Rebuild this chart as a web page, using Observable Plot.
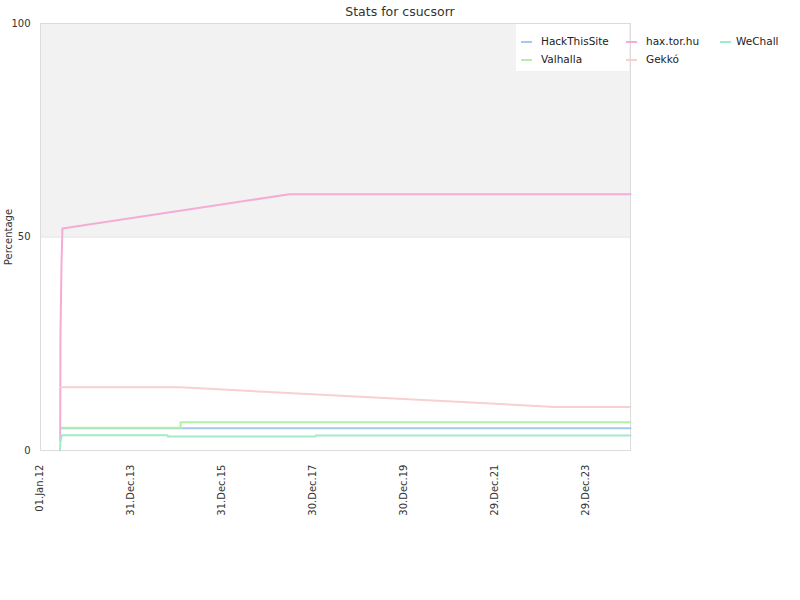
<!DOCTYPE html>
<html><head><meta charset="utf-8">
<script src="https://cdn.jsdelivr.net/npm/d3@7"></script>
<script src="https://cdn.jsdelivr.net/npm/@observablehq/plot@0.6"></script>
<style>
body{margin:0;background:#fff;font-family:"DejaVu Sans",sans-serif;}
#wrap{position:relative;width:800px;height:600px;overflow:hidden;}
#chart{position:absolute;left:0;top:0;}
#title{position:absolute;top:4px;left:0;width:800px;text-align:center;font-size:12.5px;color:#333;}
#ylabel{position:absolute;left:8px;top:237px;font-size:10px;color:#333;transform:translate(-50%,-50%) rotate(-90deg);white-space:nowrap;}
#legendbox{position:absolute;left:516px;top:24px;width:113px;height:47px;background:#fff;}
.item{position:absolute;font-size:10.5px;color:#222;line-height:12px;white-space:nowrap;}
.sw{position:absolute;width:11px;height:2px;}
</style></head><body>
<div id="wrap"><div id="chart"></div><div id="title">Stats for csucsorr</div><div id="ylabel">Percentage</div><div id="legendbox"></div><div id="legend"></div></div>
<script>
// Series
const seriesNames = ["HackThisSite", "Valhalla", "hax.tor.hu", "Gekkó", "WeChall"];
const seriesColors = ["#a3c9f1", "#b2f0a9", "#f4acd6", "#f8d0cf", "#a1ebc9"];

// HackThisSite
const htsDates = ["2012-06-15", "2024-12-24"];
const htsValues = [5.2, 5.2];
// Valhalla
const valDates = ["2012-06-15", "2015-02-05", "2015-02-06", "2024-12-24"];
const valValues = [5.3, 5.3, 6.6, 6.6];
// hax.tor.hu
const haxDates = ["2012-06-15", "2012-06-17", "2012-06-25", "2012-07-03", "2017-06-28", "2024-12-24"];
const haxValues = [2.3, 27, 43, 52, 60, 60];
// Gekkó
const gekDates = ["2012-06-19", "2015-02-05", "2023-04-25", "2024-12-24"];
const gekValues = [14.8, 14.8, 10.2, 10.2];
// WeChall
const wecDates = ["2012-06-13", "2012-06-17", "2012-06-29", "2014-10-24", "2014-10-25", "2018-01-23", "2018-01-24", "2024-12-24"];
const wecValues = [0, 2.1, 3.6, 3.6, 3.3, 3.3, 3.5, 3.5];

// Axes
const xDomain = ["2012-01-09", "2024-12-24"];
const xTickDates = ["2012-01-01", "2013-12-31", "2015-12-31", "2017-12-30", "2019-12-30", "2021-12-29", "2023-12-29"];
const yTicks = [0, 50, 100];
const shadedBand = [50, 100];

const rows = [];
function add(name, dates, values) {
  dates.forEach((d, i) => rows.push({series: name, date: new Date(d), value: values[i]}));
}
add("HackThisSite", htsDates, htsValues);
add("Valhalla", valDates, valValues);
add("hax.tor.hu", haxDates, haxValues);
add("Gekkó", gekDates, gekValues);
add("WeChall", wecDates, wecValues);

const d0 = new Date(xDomain[0]), d1 = new Date(xDomain[1]);
const fmt = d3.utcFormat("%d.%b.%y");

const chart = Plot.plot({
  width: 800, height: 600,
  marginTop: 23, marginBottom: 150, marginLeft: 40, marginRight: 170,
  style: {fontFamily: "DejaVu Sans, sans-serif", fontSize: "10px", color: "#333", background: "transparent"},
  x: {type: "utc", domain: [d0, d1]},
  y: {domain: [0, 100]},
  color: {domain: seriesNames, range: seriesColors},
  marks: [
    Plot.rect([0], {x1: () => d0, x2: () => d1, y1: () => shadedBand[0], y2: () => shadedBand[1], fill: "#f2f2f2"}),
    Plot.ruleY([shadedBand[0]], {stroke: "#e0e0e0"}),
    Plot.frame({stroke: "#dcdcdc"}),
    Plot.axisY({ticks: yTicks, tickSize: 0, tickPadding: 10, label: null, fill: "#333"}),
    Plot.axisX({ticks: xTickDates.map(d => new Date(d)), tickFormat: fmt, tickRotate: -90, tickSize: 0, tickPadding: 14, label: null, fill: "#333"}),
    Plot.line(rows, {x: "date", y: "value", z: "series", stroke: "series", strokeWidth: 2})
  ]
});
document.getElementById("chart").appendChild(chart);

// Legend
const legendPos = [[521, 42], [521, 60], [626, 42], [626, 60], [720, 42]];
const textX = [541, 541, 646, 646, 736];
const leg = document.getElementById("legend");
seriesNames.forEach((name, i) => {
  const sw = document.createElement("div");
  sw.className = "sw";
  sw.style.left = legendPos[i][0] + "px";
  sw.style.top = (legendPos[i][1] - 1) + "px";
  sw.style.background = seriesColors[i];
  leg.appendChild(sw);
  const t = document.createElement("div");
  t.className = "item";
  t.textContent = name;
  t.style.left = textX[i] + "px";
  t.style.top = (legendPos[i][1] - 7) + "px";
  leg.appendChild(t);
});
</script>
</body></html>
